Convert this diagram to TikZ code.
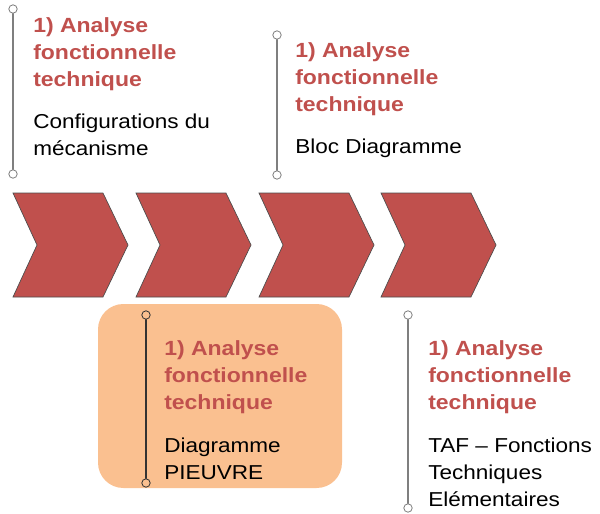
\documentclass[tikz,border=0pt]{standalone}
\usepackage{fontspec}
\setmainfont[FakeStretch=1.12]{Liberation Sans}
\usepackage{xcolor}
\definecolor{chevred}{HTML}{C0504D}
\definecolor{padorange}{HTML}{FAC090}
\definecolor{stemgray}{HTML}{7F7F7F}

\begin{document}
\begin{tikzpicture}[x=0.75pt,y=-0.75pt,line cap=round,
  chev/.style={fill=chevred,draw=black!70,line width=0.5pt,line join=miter},
  endring/.style={circle,draw=#1,fill=white,line width=0.6pt,inner sep=0pt,minimum size=6.3pt},
  stem/.style={draw=#1,line width=0.9pt},
  title/.style={anchor=base west,inner sep=0pt,align=left,text=chevred,
    font=\fontsize{15.4pt}{20.25pt}\selectfont\bfseries},
  body/.style={anchor=base west,inner sep=0pt,align=left,
    font=\fontsize{15.1pt}{20.25pt}\selectfont}]
\useasboundingbox (0,0) rectangle (600,514);
% chevrons
\foreach \dx in {0,123,246,368}
  \draw[chev,shift={(\dx,0)}] (13,193) -- (103,193) -- (128,245) -- (103,297) -- (13,297) -- (37,245) -- cycle;
% highlighted step
\fill[padorange,rounded corners=19pt] (98,304) rectangle (342,488);
% step 1 (base = last line)
\node[endring=stemgray] (s1top) at (13,9) {};
\node[endring=stemgray] (s1bot) at (13,174) {};
\draw[stem=stemgray] (s1top) -- (s1bot);
\node[title] (s1title) at (33,86) {1) Analyse\\fonctionnelle\\technique};
\node[body] (s1body) at (33,155) {Configurations du\\mécanisme};
% step 2
\node[endring=stemgray] (s2top) at (277,35) {};
\node[endring=stemgray] (s2bot) at (277,175) {};
\draw[stem=stemgray] (s2top) -- (s2bot);
\node[title] (s2title) at (295,111) {1) Analyse\\fonctionnelle\\technique};
\node[body] (s2body) at (295,153) {Bloc Diagramme};
% step 3
\node[endring=black!80,fill=padorange] (s3top) at (146,315) {};
\node[endring=black!80,fill=padorange] (s3bot) at (146,483) {};
\draw[stem=black!80] (s3top) -- (s3bot);
\node[title] (s3title) at (164,409) {1) Analyse\\fonctionnelle\\technique};
\node[body] (s3body) at (164,479) {Diagramme\\PIEUVRE};
% step 4
\node[endring=stemgray] (s4top) at (408,315) {};
\node[endring=stemgray] (s4bot) at (408,508) {};
\draw[stem=stemgray] (s4top) -- (s4bot);
\node[title] (s4title) at (428,409) {1) Analyse\\fonctionnelle\\technique};
\node[body] (s4body) at (428,506) {TAF – Fonctions\\Techniques\\Elémentaires};
\end{tikzpicture}
\end{document}
